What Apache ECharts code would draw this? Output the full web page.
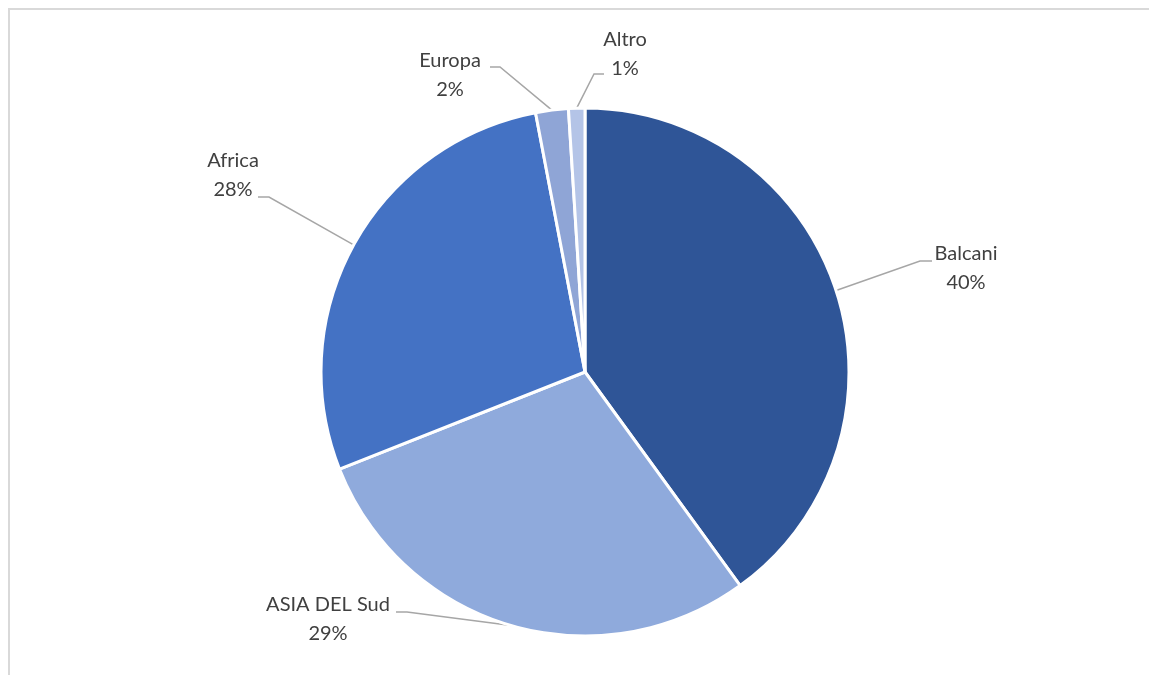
<!DOCTYPE html>
<html>
<head>
<meta charset="utf-8">
<style>
  html, body { margin: 0; padding: 0; background: #ffffff; overflow: hidden; }
  #chart { width: 1149px; height: 675px; }
</style>
<script src="https://cdn.jsdelivr.net/npm/echarts@6/dist/echarts.min.js"></script>
</head>
<body>
<div id="chart"></div>
<script>
// Share of origin by area (percent)
const categories = ['Balcani', 'ASIA DEL Sud', 'Africa', 'Europa', 'Altro'];
const shares = [40, 29, 28, 2, 1];
const sliceColors = ['#2F5597', '#8FAADC', '#4472C4', '#8FA5D6', '#B4C4E7'];

// Where each label block sits (centre) and where its leader line bends / ends
const labelSpots = [
  { x: 966, y: 268, bend: [920, 261], end: [932, 261] },
  { x: 328, y: 619, bend: [407, 612], end: [396, 612] },
  { x: 233, y: 175, bend: [269, 197], end: [258, 197] },
  { x: 450, y: 75,  bend: [500, 67],  end: [490, 67] },
  { x: 625, y: 54,  bend: [594, 74],  end: [604, 74] }
];

const chart = echarts.init(document.getElementById('chart'), null, { renderer: 'canvas' });

const pieData = categories.map((name, i) => ({
  name: name,
  value: shares[i],
  itemStyle: { color: sliceColors[i] }
}));

chart.setOption({
  animation: false,
  graphic: [
    {
      type: 'polyline',
      shape: { points: [[9, 700], [9, 9], [1160, 9]] },
      style: { stroke: '#d9d9d9', lineWidth: 2, fill: null },
      silent: true
    }
  ],
  series: [
    {
      type: 'pie',
      center: [585, 372],
      radius: [0, 264],
      startAngle: 90,
      clockwise: true,
      avoidLabelOverlap: false,
      data: pieData,
      itemStyle: { borderColor: '#ffffff', borderWidth: 3 },
      label: {
        show: true,
        position: 'outside',
        formatter: '{b}\n{c}%',
        fontFamily: 'Lato, "Open Sans", sans-serif',
        fontSize: 20,
        lineHeight: 29,
        color: '#404040',
        align: 'center'
      },
      labelLine: {
        show: true,
        length: 20,
        length2: 10,
        lineStyle: { color: '#a6a6a6', width: 1.5 }
      },
      labelLayout: function (params) {
        const spot = labelSpots[params.dataIndex];
        const start = params.labelLinePoints ? params.labelLinePoints[0] : spot.bend;
        return {
          x: spot.x,
          y: spot.y,
          align: 'center',
          verticalAlign: 'middle',
          labelLinePoints: [start, spot.bend, spot.end]
        };
      }
    }
  ]
});
</script>
</body>
</html>
